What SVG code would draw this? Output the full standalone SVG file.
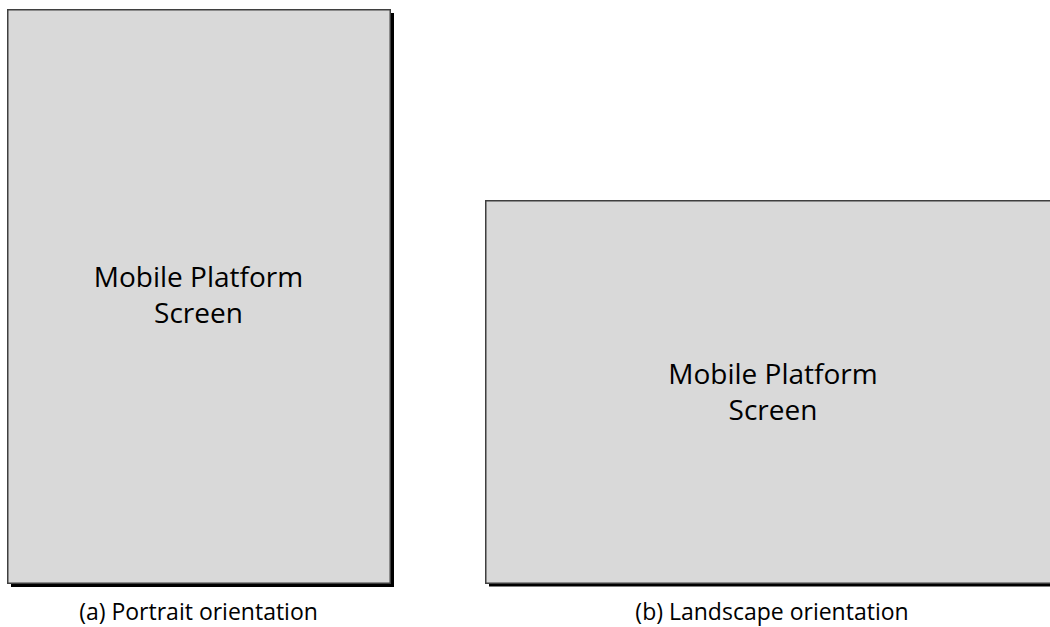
<svg xmlns="http://www.w3.org/2000/svg" width="1050" height="627" viewBox="0 0 1050 627">
<style>
.shadow{fill:#000}
.screen{fill:#d9d9d9;stroke:#3f3f3f;stroke-width:1.5}
.label{font-family:"Open Sans","Liberation Sans",sans-serif;font-size:28px;fill:#000;text-anchor:middle}
.caption{font-family:"Open Sans","Liberation Sans",sans-serif;font-size:23px;fill:#000;text-anchor:middle}
</style>
<rect width="1050" height="627" fill="#fff"/>
<g id="portrait">
<rect class="shadow" x="11" y="13" width="383" height="574"/>
<rect class="screen" x="7.75" y="9.75" width="382.5" height="573.5"/>
<text class="label" x="198.5" y="287">Mobile Platform</text>
<text class="label" x="198.5" y="323">Screen</text>
</g>
<g id="landscape">
<rect class="shadow" x="489" y="204" width="580" height="382.5"/>
<rect class="screen" x="485.75" y="200.75" width="580" height="382.5"/>
<text class="label" x="773" y="384">Mobile Platform</text>
<text class="label" x="773" y="420">Screen</text>
</g>
<g id="connectors"/>
<text class="caption" x="198.5" y="620">(a) Portrait orientation</text>
<text class="caption" x="772" y="620">(b) Landscape orientation</text>
</svg>
